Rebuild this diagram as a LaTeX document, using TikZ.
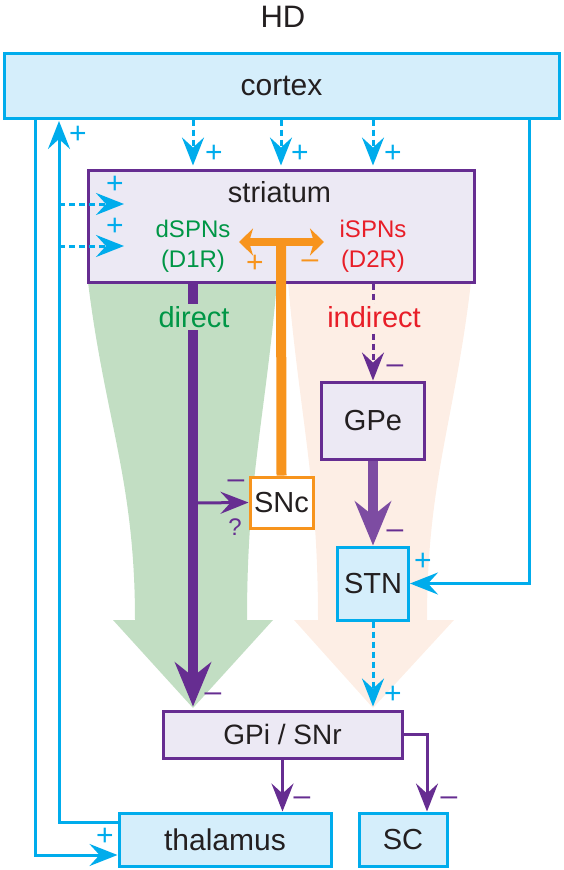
\documentclass[tikz,border=0pt]{standalone}
\usepackage{fontspec}
\setmainfont{Liberation Sans}
\usetikzlibrary{arrows.meta,positioning}

\definecolor{hdcyan}{RGB}{0,172,236}
\definecolor{hdblue}{RGB}{213,238,251}
\definecolor{hdpurple}{RGB}{102,45,145}
\definecolor{hdlav}{RGB}{236,233,244}
\definecolor{hdorange}{RGB}{247,148,29}
\definecolor{hdgreenbg}{RGB}{194,222,195}
\definecolor{hdpeach}{RGB}{253,238,229}
\definecolor{hdgreen}{RGB}{0,150,70}
\definecolor{hdred}{RGB}{232,30,40}
\definecolor{hdtext}{RGB}{35,31,32}

\begin{document}
\begin{tikzpicture}[x=1pt,y=-1pt,
  area/.style={draw=hdcyan,fill=hdblue,line width=3pt,text=hdtext,font=\fontsize{29}{31}\selectfont},
  nucleus/.style={draw=hdpurple,fill=hdlav,line width=3pt,text=hdtext,font=\fontsize{29}{31}\selectfont},
  label/.style={font=\fontsize{29}{31}\selectfont,inner sep=1pt},
  small/.style={font=\fontsize{24}{26}\selectfont,inner sep=0pt},
  sign/.style={font=\fontsize{30}{30}\selectfont,inner sep=0pt},
  exc/.style={draw=hdcyan,line width=3pt,-{Stealth[length=28pt,width=22pt,inset=10pt]}},
  dots/.style={dash pattern=on 6pt off 4pt},
  inh/.style={draw=hdpurple,line width=3pt,-{Stealth[length=28pt,width=22pt,inset=10pt]}},
  inhthick/.style={draw=hdpurple,line width=10pt,-{Stealth[length=44pt,width=36pt,inset=14pt]}}]

\useasboundingbox (0,0) rectangle (564,870);

% Pathway funnels
\fill[hdgreenbg] (88,282) .. controls (105,420) and (135,480) .. (135,620) -- (113,620)
  -- (193,708) -- (273,620) -- (247,620) .. controls (247,480) and (265,420) .. (277,282) -- cycle;
\fill[hdpeach] (288,282) .. controls (300,420) and (318,480) .. (318,620) -- (294,620)
  -- (373,708) -- (454,620) -- (427,620) .. controls (427,480) and (455,420) .. (471,282) -- cycle;

% Nuclei
\node (HD) at (283,17) [label, text=hdtext, font=\fontsize{31}{33}\selectfont] {HD};
\node (cortex) at (281.5,85.5) [area, minimum width=555pt, minimum height=65pt,
  font=\fontsize{30}{32}\selectfont] {cortex};
\node (striatum) at (281,226) [nucleus, minimum width=386pt, minimum height=112pt] {};
\node (striatum-txt) at (279.5,192) [label, text=hdtext] {striatum};
\node (dSPN) at (193,229) [small, text=hdgreen] {dSPNs};
\node (D1R)  at (193,261) [small, text=hdgreen] {(D1R)};
\node (iSPN) at (373,229) [small, text=hdred] {iSPNs};
\node (D2R)  at (373,261) [small, text=hdred] {(D2R)};
\node (GPe) at (373,420.5) [nucleus, minimum width=103pt, minimum height=77pt] {GPe};
\node (SNc) at (281.5,502.5) [draw=hdorange, fill=white, line width=3pt, text=hdtext,
  font=\fontsize{29}{31}\selectfont, minimum width=63pt, minimum height=51pt, inner sep=0pt] {SNc};
\node (STN) at (373,583.5) [area, minimum width=71pt, minimum height=73pt, inner sep=0pt] {STN};
\node (GPi) at (282.5,734.5) [nucleus, minimum width=239pt, minimum height=47pt,
  font=\fontsize{28}{30}\selectfont] {GPi / SNr};
\node (thalamus) at (225,839.5) [area, minimum width=212pt, minimum height=53pt,
  font=\fontsize{30}{32}\selectfont] {thalamus};
\node (SC) at (403,839.5) [area, minimum width=88pt, minimum height=53pt] {SC};

% Dopamine
\coordinate (daL) at (239,242);
\coordinate (daR) at (324,242);
\coordinate (daM) at (281,242);
\draw[hdorange, line width=10pt] (SNc.north) -- (daM);
\draw[hdorange, line width=8pt, {Stealth[length=14pt,width=27pt,inset=4pt]}-{Stealth[length=14pt,width=27pt,inset=4pt]}] (daL) -- (daR);

% Cortical input
\draw[exc, dots] (cortex.south -| dSPN) -- ([yshift=3pt]striatum.north -| dSPN);
\draw[exc, dots] (cortex.south -| daM) -- ([yshift=3pt]striatum.north -| daM);
\draw[exc, dots] (cortex.south -| iSPN) -- ([yshift=3pt]striatum.north -| iSPN);
\coordinate (ctxL) at (35,118);
\coordinate (ctxR) at (529,118);
\draw[exc] (ctxL) |- ([yshift=-15.5pt]thalamus.west);
\draw[exc] (ctxR) |- (STN.east);

% Thalamic feedback
\coordinate (fbTop) at (59,121);
\coordinate (inA) at (59,204);
\coordinate (inA-end) at (124,204);
\coordinate (inB) at (59,246);
\coordinate (inB-end) at (124,246);
\draw[exc] ([yshift=17.5pt]thalamus.west) -| (fbTop);
\draw[exc, dots] (inA) -- (inA-end);
\draw[exc, dots] (inB) -- (inB-end);

% Direct pathway
\draw[inhthick] (striatum.south -| dSPN) -- ([yshift=3pt]GPi.north -| dSPN);
\node (direct) at (194,317) [label, fill=hdgreenbg, text=hdgreen, inner sep=2pt] {direct};
\coordinate (branch) at (193,503);
\draw[inh] (branch) -- (SNc.west);

% Indirect pathway
\draw[inh, dots] (striatum.south -| iSPN) -- (GPe.north);
\node (indirect) at (374,317) [label, fill=hdpeach, text=hdred, inner sep=2pt] {indirect};
\draw[inhthick, draw=hdpurple!85!white] (GPe.south) -- (STN.north);
\draw[exc, dots] (STN.south) -- ([yshift=3pt]GPi.north -| STN);

% Output
\draw[inh] (GPi.south) -- (thalamus.north -| GPi);
\draw[inh] (GPi.east) -| ([xshift=24pt]SC.north);

% Signs
\node (p-ctx1) at (214,154) [sign, text=hdcyan] {+};
\node (p-ctx2) at (300,154) [sign, text=hdcyan] {+};
\node (p-ctx3) at (393,154) [sign, text=hdcyan] {+};
\node (p-fb)   at (78,135)  [sign, text=hdcyan] {+};
\node (p-inA)  at (115,185) [sign, text=hdcyan] {+};
\node (p-inB)  at (115,227) [sign, text=hdcyan] {+};
\node (p-da)   at (255,264) [sign, text=hdorange] {+};
\node (m-da)   at (310,264) [sign, text=hdorange] {–};
\node (m-GPe)  at (395,369) [sign, text=hdpurple] {–};
\node (m-SNc)  at (236,484) [sign, text=hdpurple] {–};
\node (q-SNc)  at (235,527) [small, text=hdpurple] {?};
\node (m-STN)  at (395,534) [sign, text=hdpurple] {–};
\node (p-STN)  at (423,562) [sign, text=hdcyan] {+};
\node (m-GPi)  at (213,697) [sign, text=hdpurple] {–};
\node (p-GPi)  at (393,695) [sign, text=hdcyan] {+};
\node (m-thal) at (302,801) [sign, text=hdpurple] {–};
\node (m-SC)   at (449,801) [sign, text=hdpurple] {–};
\node (p-thal) at (105,837) [sign, text=hdcyan] {+};

\end{tikzpicture}
\end{document}
